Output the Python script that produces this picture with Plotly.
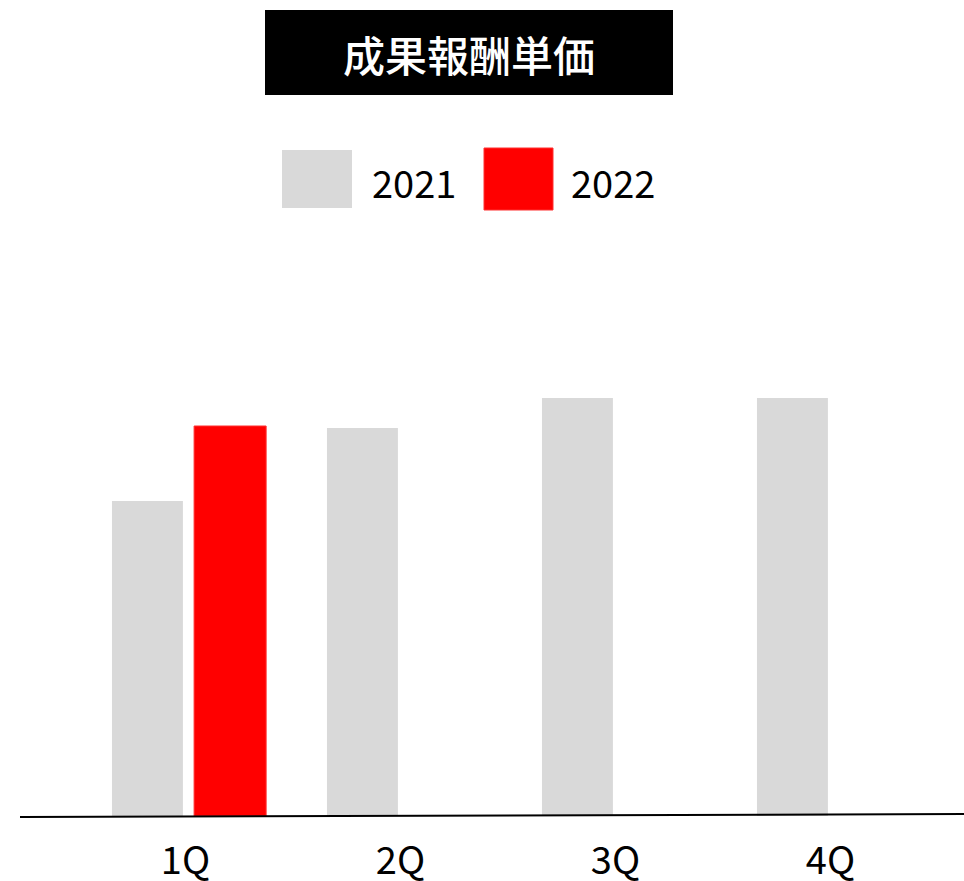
import plotly.graph_objects as go

# Quarterly performance-fee unit price, 2021 vs 2022
quarters = ["1Q", "2Q", "3Q", "4Q"]
values_2021 = [315, 388, 418, 418]
values_2022 = [390, None, None, None]
series_names = ["2021", "2022"]
title_text = "成果報酬単価"

W, H = 964, 881
M_L, M_R, M_T, M_B = 78, 26, 230, 65
FONT = "Noto Sans CJK JP"
GRAY = "#D9D9D9"
RED = "#FF0000"


def px(x):
    return (x - M_L) / (W - M_L - M_R)


def py(y):
    return (H - M_B - y) / (H - M_T - M_B)


fig = go.Figure()
fig.add_trace(go.Bar(
    x=quarters, y=values_2021, name=series_names[0],
    marker=dict(color=GRAY, line=dict(width=0)),
    width=0.33, offset=-0.342,
))
fig.add_trace(go.Bar(
    x=quarters, y=values_2022, name=series_names[1],
    marker=dict(color=RED, line=dict(color="#FF3030", width=1)),
    width=0.335, offset=0.04,
))

shapes = [
    # title banner
    dict(type="rect", xref="paper", yref="paper",
         x0=px(265), x1=px(673), y0=py(95), y1=py(10),
         fillcolor="black", line=dict(width=0), layer="above"),
    # legend swatches
    dict(type="rect", xref="paper", yref="paper",
         x0=px(282), x1=px(352), y0=py(208), y1=py(150),
         fillcolor=GRAY, line=dict(width=0)),
    dict(type="rect", xref="paper", yref="paper",
         x0=px(484), x1=px(553), y0=py(210), y1=py(148),
         fillcolor=RED, line=dict(color="#FF3030", width=1)),
    # baseline
    dict(type="line", xref="paper", yref="paper",
         x0=px(20), x1=px(964), y0=py(817), y1=py(814),
         line=dict(color="black", width=2), layer="above"),
]

annotations = [
    dict(text=title_text, xref="paper", yref="paper",
         x=px(469), y=py(53), xanchor="center", yanchor="middle",
         showarrow=False,
         font=dict(family=FONT, size=42, color="white", weight=500)),
    dict(text=series_names[0], xref="paper", yref="paper",
         x=px(370), y=py(181), xanchor="left", yanchor="middle",
         showarrow=False, font=dict(family=FONT, size=38, color="black")),
    dict(text=series_names[1], xref="paper", yref="paper",
         x=px(569), y=py(182), xanchor="left", yanchor="middle",
         showarrow=False, font=dict(family=FONT, size=38, color="black")),
]

fig.update_layout(
    width=W, height=H,
    margin=dict(l=M_L, r=M_R, t=M_T, b=M_B, pad=0, autoexpand=False),
    paper_bgcolor="white", plot_bgcolor="white",
    showlegend=False,
    barmode="group",
    font=dict(family=FONT, color="black"),
    shapes=shapes,
    annotations=annotations,
    xaxis=dict(
        type="category", range=[-0.5, 3.5], automargin=False,
        showgrid=False, zeroline=False, showline=False,
        ticks="outside", ticklen=11, tickcolor="rgba(0,0,0,0)",
        tickfont=dict(family=FONT, size=38, color="black"),
    ),
    yaxis=dict(
        range=[0, H - M_T - M_B], automargin=False,
        showgrid=False, zeroline=False, showline=False,
        showticklabels=False, ticks="",
    ),
)

fig.write_html("out.html")
